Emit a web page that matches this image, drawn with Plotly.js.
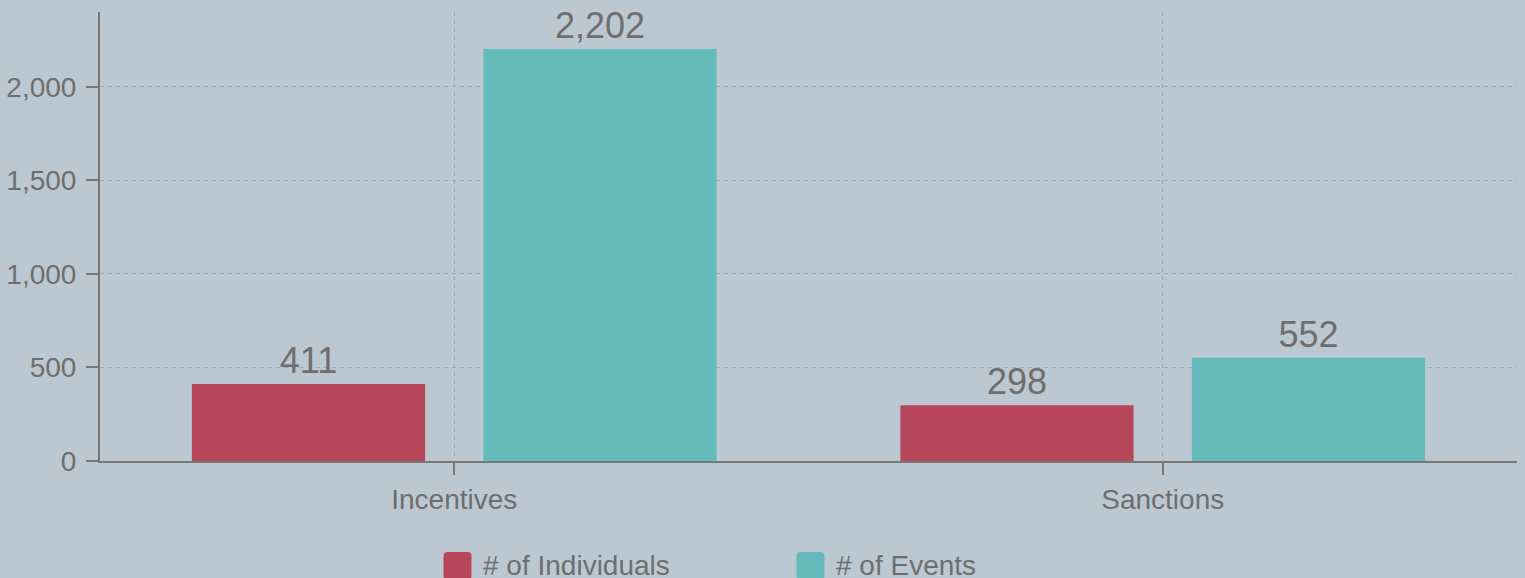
<!DOCTYPE html>
<html>
<head>
<meta charset="utf-8">
<script src="https://cdn.plot.ly/plotly-3.0.1.min.js"></script>
<style>html,body{margin:0;padding:0;background:#bcc8d1;}#chart{width:1525px;height:578px;}</style>
</head>
<body>
<div id="chart"></div>
<script>
const categories = ["Incentives", "Sanctions"];
const seriesNames = ["# of Individuals", "# of Events"];
const individuals = [411, 298];
const events = [2202, 552];
const colors = ["#b8465b", "#65baba"];

const textColor = "#6e6e6e";
const font = "Liberation Sans, Arial, sans-serif";

const traces = [individuals, events].map((vals, i) => ({
  type: "bar",
  x: categories,
  y: vals,
  name: seriesNames[i],
  marker: {color: colors[i]},
  text: vals.map(v => v.toLocaleString("en-US")),
  textposition: "outside",
  textfont: {size: 36, color: textColor, family: font},
  cliponaxis: false,
  hoverinfo: "skip",
  showlegend: false
}));

// manual legend (larger rounded swatches)
const legX = [0.2424, 0.4915];
const legTop = -0.2027;
const shapes = [];
const annotations = [];
seriesNames.forEach((n, i) => {
  shapes.push({
    type: "path", xref: "paper", yref: "paper",
    xsizemode: "pixel", ysizemode: "pixel",
    xanchor: legX[i], yanchor: legTop,
    path: "M4,0 L24,0 Q28,0 28,-4 L28,-24 Q28,-28 24,-28 L4,-28 Q0,-28 0,-24 L0,-4 Q0,0 4,0 Z",
    fillcolor: colors[i], line: {width: 0}
  });
  annotations.push({
    xref: "paper", yref: "paper", x: legX[i] + 0.0262, y: legTop - 0.029,
    xanchor: "left", yanchor: "middle", showarrow: false,
    text: n, font: {size: 28, color: textColor, family: font}
  });
});

const layout = {
  width: 1525, height: 578,
  paper_bgcolor: "#bcc8d1", plot_bgcolor: "#bcc8d1",
  margin: {l: 100, r: 8, t: 12, b: 117},
  barmode: "group", bargap: 0.177, bargroupgap: 0.2,
  font: {family: font, color: textColor},
  showlegend: false,
  xaxis: {
    range: [-0.5, 1.5],
    showline: true, linecolor: "#777777", linewidth: 2,
    ticks: "outside", ticklen: 12, tickwidth: 2, tickcolor: "#777777",
    showgrid: true, gridcolor: "#9ea9b2", gridwidth: 1, griddash: "4px,4px",
    tickfont: {size: 28, color: textColor, family: font},
    ticklabelstandoff: 0,
    zeroline: false, fixedrange: true
  },
  yaxis: {
    range: [0, 2400],
    tickvals: [0, 500, 1000, 1500, 2000],
    tickformat: ",d",
    showline: true, linecolor: "#777777", linewidth: 2,
    ticks: "outside", ticklen: 12, tickwidth: 2, tickcolor: "#777777",
    showgrid: true, gridcolor: "#9ea9b2", gridwidth: 1, griddash: "4px,4px",
    tickfont: {size: 28, color: textColor, family: font},
    ticklabelstandoff: 4,
    zeroline: false, fixedrange: true
  },
  shapes: shapes,
  annotations: annotations
};

Plotly.newPlot("chart", traces, layout, {displayModeBar: false, staticPlot: true});
</script>
</body>
</html>
